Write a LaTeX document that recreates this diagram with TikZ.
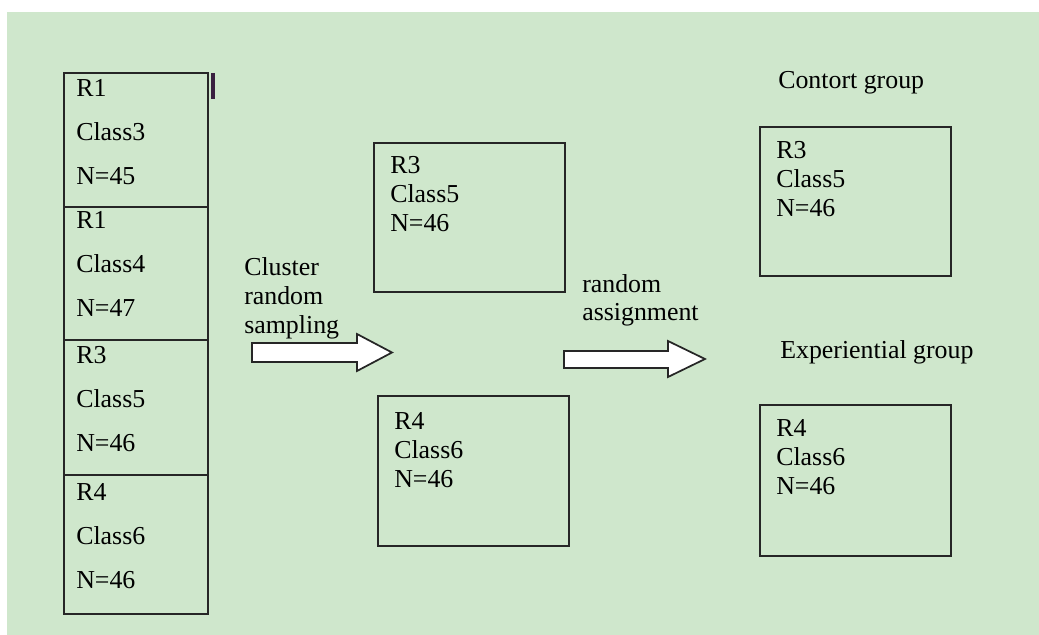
\documentclass[tikz,border=0pt]{standalone}
\usepackage{fontspec}
\setmainfont{Liberation Serif}
\usetikzlibrary{positioning}

\definecolor{pagegreen}{RGB}{207,231,204}
\definecolor{linegray}{RGB}{38,38,38}
\definecolor{markpurple}{RGB}{58,32,64}

\begin{document}
\begin{tikzpicture}[x=0.75pt, y=-0.75pt,
	cell/.style={draw=linegray, line width=1.4pt, minimum width=108pt, outer sep=0pt, inner sep=0pt},
	grp/.style={draw=linegray, line width=1.4pt, minimum width=143.25pt, outer sep=0pt, inner sep=0pt},
	tall/.style={align=left, inner sep=0pt, font=\fontsize{19.4}{33}\selectfont},
	txt/.style={align=left, inner sep=0pt, font=\fontsize{19.4}{21.75}\selectfont},
	blk/.style={draw=linegray, fill=white, line width=1.3pt, line join=miter}]
	\useasboundingbox (0,0) rectangle (1039,635);
	\fill[white] (0,0) rectangle (1039,635);
	\fill[pagegreen] (7,12) rectangle (1039,635);

	% sampled population, one cell per class
	\node[cell, minimum height=100.5pt] (c1) at (136,140) {};
	\node[cell, minimum height=99.75pt, below=0pt of c1] (c2) {};
	\node[cell, minimum height=101.25pt, below=0pt of c2] (c3) {};
	\node[cell, minimum height=104.25pt, below=0pt of c3] (c4) {};
	\node[tall, below right=4.7pt and 9pt of c1.north west] (t1) {R1\\Class3\\N=45};
	\node[tall, below right=3.2pt and 9pt of c2.north west] (t2) {R1\\Class4\\N=47};
	\node[tall, below right=4.7pt and 9pt of c3.north west] (t3) {R3\\Class5\\N=46};
	\node[tall, below right=6.2pt and 9pt of c4.north west] (t4) {R4\\Class6\\N=46};
	\draw[markpurple, line width=2.6pt] (213,73) -- (213,99);

	% chosen clusters
	\node[grp, minimum height=111.75pt] (m1) at (469.5,217.5) {};
	\node[grp, minimum height=112.5pt] (m2) at (473.5,471) {};
	\node[txt, below right=9.7pt and 12pt of m1.north west] (s1) {R3\\Class5\\N=46};
	\node[txt, below right=12.2pt and 12pt of m2.north west] (s2) {R4\\Class6\\N=46};

	% groups
	\node[grp, minimum height=111.75pt] (g1) at (855.5,201.5) {};
	\node[grp, minimum height=113.25pt] (g2) at (855.5,480.5) {};
	\node[txt, below right=10.7pt and 12pt of g1.north west] (u1) {R3\\Class5\\N=46};
	\node[txt, below right=10.7pt and 12pt of g2.north west] (u2) {R4\\Class6\\N=46};
	\node[txt, anchor=base west] (l1) at (778,88.3) {Contort group};
	\node[txt, anchor=base west] (l2) at (780,358) {Experiential group};

	% steps
	\node[txt, anchor=north west] (a1) at (244,257.5) {Cluster\\random\\sampling};
	\node[align=left, inner sep=0pt, font=\fontsize{19.4}{20.6}\selectfont, anchor=north west] (a2) at (582,274.5) {random\\assignment};
	\draw[blk] (252,343) -- (357,343) -- (357,334) -- (392,352.5) -- (357,371) -- (357,362) -- (252,362) -- cycle;
	\draw[blk] (564,351) -- (668,351) -- (668,341) -- (705,359) -- (668,377) -- (668,368) -- (564,368) -- cycle;
\end{tikzpicture}
\end{document}
